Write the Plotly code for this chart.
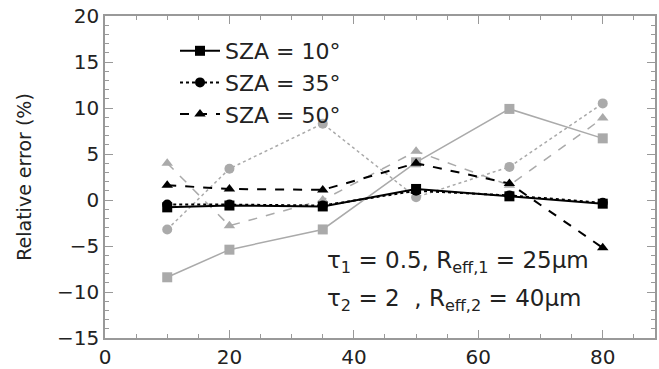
import plotly.graph_objects as go

sza_x = [10, 20, 35, 50, 65, 80]

# black series (first case)
sza10_black = [-0.8, -0.6, -0.7, 1.2, 0.4, -0.4]
sza35_black = [-0.5, -0.5, -0.6, 1.0, 0.5, -0.3]
sza50_black = [1.6, 1.2, 1.1, 4.0, 1.8, -5.2]

# gray series (second case)
sza10_gray = [-8.4, -5.4, -3.2, 4.1, 9.9, 6.7]
sza35_gray = [-3.2, 3.4, 8.3, 0.3, 3.6, 10.5]
sza50_gray = [4.0, -2.8, 0.0, 5.3, 1.6, 8.9]

legend_names = ["SZA = 10°", "SZA = 35°", "SZA = 50°"]

BLACK = "#000000"
GRAY = "#aaaaaa"
FONT = "DejaVu Sans, Liberation Sans, Arial, sans-serif"
TXT = "#222222"

fig = go.Figure()

styles = [("solid", "square", 10), ("dot", "circle", 10), ("dash", "triangle-up", 10)]

for ys, (dash, sym, ms) in zip([sza10_gray, sza35_gray, sza50_gray], styles):
    fig.add_trace(go.Scatter(
        x=sza_x, y=ys, mode="lines+markers", showlegend=False,
        line=dict(color=GRAY, width=1.5, dash=dash),
        marker=dict(symbol=sym, size=ms, color=GRAY)))

for ys, name, (dash, sym, ms) in zip([sza10_black, sza35_black, sza50_black], legend_names, styles):
    fig.add_trace(go.Scatter(
        x=sza_x, y=ys, mode="lines+markers", name=name,
        line=dict(color=BLACK, width=2, dash=dash),
        marker=dict(symbol=sym, size=ms, color=BLACK)))

axis_common = dict(
    showline=True, linecolor="#999999", linewidth=1.5, mirror="allticks",
    ticks="inside", tickcolor="#999999", ticklen=8, tickwidth=1,
    showgrid=False, zeroline=False, automargin=False,
    tickfont=dict(family=FONT, size=20, color=TXT),
)

fig.update_xaxes(range=[0, 88.4], tickvals=[0, 20, 40, 60, 80],
                 minor=dict(dtick=5, ticks="inside", ticklen=4, tickcolor="#999999"),
                 **axis_common)
fig.update_yaxes(range=[-15, 20], tickvals=[-15, -10, -5, 0, 5, 10, 15, 20],
                 ticktext=["\u221215", "\u221210", "\u22125", "0", "5", "10", "15", "20"],
                 minor=dict(dtick=1, ticks="inside", ticklen=4, tickcolor="#999999"),
                 title=dict(text="Relative error (%)", standoff=20,
                            font=dict(family=FONT, size=19, color=TXT)),
                 **axis_common)

fig.add_annotation(
    xref="paper", yref="paper", x=(325 - 105) / 550, y=(338 - 262) / 322,
    xanchor="left", yanchor="middle", showarrow=False,
    text="\u03c4<sub>1</sub> = 0.5, R<sub>eff,1</sub> = 25\u03bcm",
    font=dict(family=FONT, size=23, color=TXT))
fig.add_annotation(
    xref="paper", yref="paper", x=(325 - 105) / 550, y=(338 - 300) / 322,
    xanchor="left", yanchor="middle", showarrow=False,
    text="\u03c4<sub>2</sub> = 2\u00a0\u00a0, R<sub>eff,2</sub> = 40\u03bcm",
    font=dict(family=FONT, size=23, color=TXT))

fig.update_layout(
    width=659, height=369,
    margin=dict(l=105, r=4, t=16, b=31),
    paper_bgcolor="white", plot_bgcolor="white",
    legend=dict(x=(175 - 105) / 550, y=(338 - 30) / 322, xanchor="left", yanchor="top",
                bgcolor="rgba(0,0,0,0)", tracegroupgap=0, itemwidth=40,
                font=dict(family=FONT, size=22, color=TXT)),
)

fig.write_html("out.html")
